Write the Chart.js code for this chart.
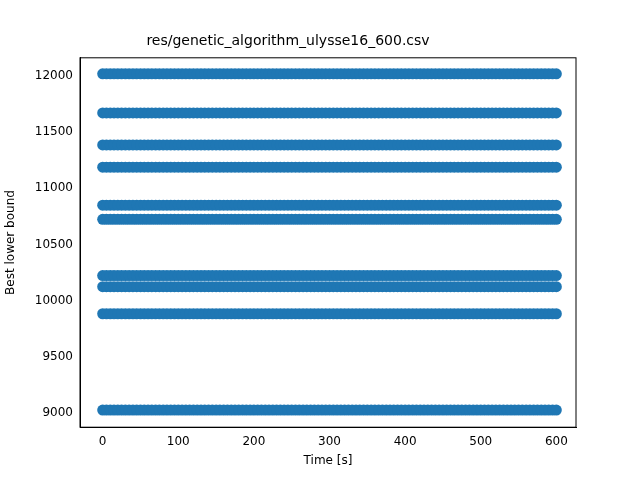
<!DOCTYPE html>
<html>
<head>
<meta charset="utf-8">
<script src="https://cdn.jsdelivr.net/npm/chart.js@4"></script>
<style>
  html, body { margin: 0; padding: 0; background: #fff; }
  #box { position: relative; width: 640px; height: 480px; }
</style>
</head>
<body>
<div id="box"><canvas id="chart"></canvas></div>
<script>
// sample times in seconds
const times = [0, 5, 10, 15, 20, 25, 30, 35, 40, 45, 50, 55, 60, 65, 70, 75, 80, 85, 90, 95,
  100, 105, 110, 115, 120, 125, 130, 135, 140, 145, 150, 155, 160, 165, 170, 175, 180, 185, 190, 195,
  200, 205, 210, 215, 220, 225, 230, 235, 240, 245, 250, 255, 260, 265, 270, 275, 280, 285, 290, 295,
  300, 305, 310, 315, 320, 325, 330, 335, 340, 345, 350, 355, 360, 365, 370, 375, 380, 385, 390, 395,
  400, 405, 410, 415, 420, 425, 430, 435, 440, 445, 450, 455, 460, 465, 470, 475, 480, 485, 490, 495,
  500, 505, 510, 515, 520, 525, 530, 535, 540, 545, 550, 555, 560, 565, 570, 575, 580, 585, 590, 595, 600];
// lower bound levels seen in the run
const bounds = [12018, 11670, 11385, 11187, 10849, 10724, 10223, 10125, 9884, 9027];
const yTicks = [9000, 9500, 10000, 10500, 11000, 11500, 12000];
const xTicks = [0, 100, 200, 300, 400, 500, 600];

const points = [];
bounds.forEach(b => times.forEach(t => points.push({ x: t, y: b })));

const font = { family: 'DejaVu Sans', size: 12 };

new Chart(document.getElementById('chart'), {
  type: 'scatter',
  data: {
    datasets: [{
      data: points,
      backgroundColor: '#1f77b4',
      borderColor: '#1f77b4',
      pointRadius: 5.5,
      borderWidth: 0
    }]
  },
  options: {
    responsive: true,
    maintainAspectRatio: false,
    animation: false,
    layout: { padding: { left: 0, right: 64, top: 0, bottom: 10 } },
    plugins: {
      legend: { display: false },
      tooltip: { enabled: false },
      title: {
        display: true,
        text: 'res/genetic_algorithm_ulysse16_600.csv',
        color: '#000',
        font: { family: 'DejaVu Sans', size: 14, weight: 'normal' },
        padding: { top: 33, bottom: 8 }
      }
    },
    scales: {
      x: {
        type: 'linear',
        min: -30, max: 626,
        afterBuildTicks: axis => { axis.ticks = xTicks.map(v => ({ value: v })); },
        ticks: { color: '#000', font: font, maxRotation: 0, callback: v => String(v) },
        grid: { display: false, drawTicks: true, tickLength: 4, tickColor: '#000' },
        border: { color: '#000' },
        title: { display: true, text: 'Time [s]', color: '#000', font: font, padding: 2 }
      },
      y: {
        type: 'linear',
        min: 8875, max: 12160,
        afterBuildTicks: axis => { axis.ticks = yTicks.map(v => ({ value: v })); },
        afterFit: axis => { axis.width = 80; },
        ticks: { color: '#000', font: font, callback: v => String(v) },
        grid: { display: false, drawTicks: true, tickLength: 4, tickColor: '#000' },
        border: { color: '#000' },
        title: { display: true, text: 'Best lower bound', color: '#000', font: font }
      }
    }
  },
  plugins: [{
    id: 'frame',
    afterDraw(chart) {
      const a = chart.chartArea, c = chart.ctx;
      c.save();
      c.strokeStyle = '#000';
      c.lineWidth = 1;
      c.strokeRect(a.left, a.top, a.right - a.left, a.bottom - a.top);
      c.restore();
    }
  }]
});
</script>
</body>
</html>
